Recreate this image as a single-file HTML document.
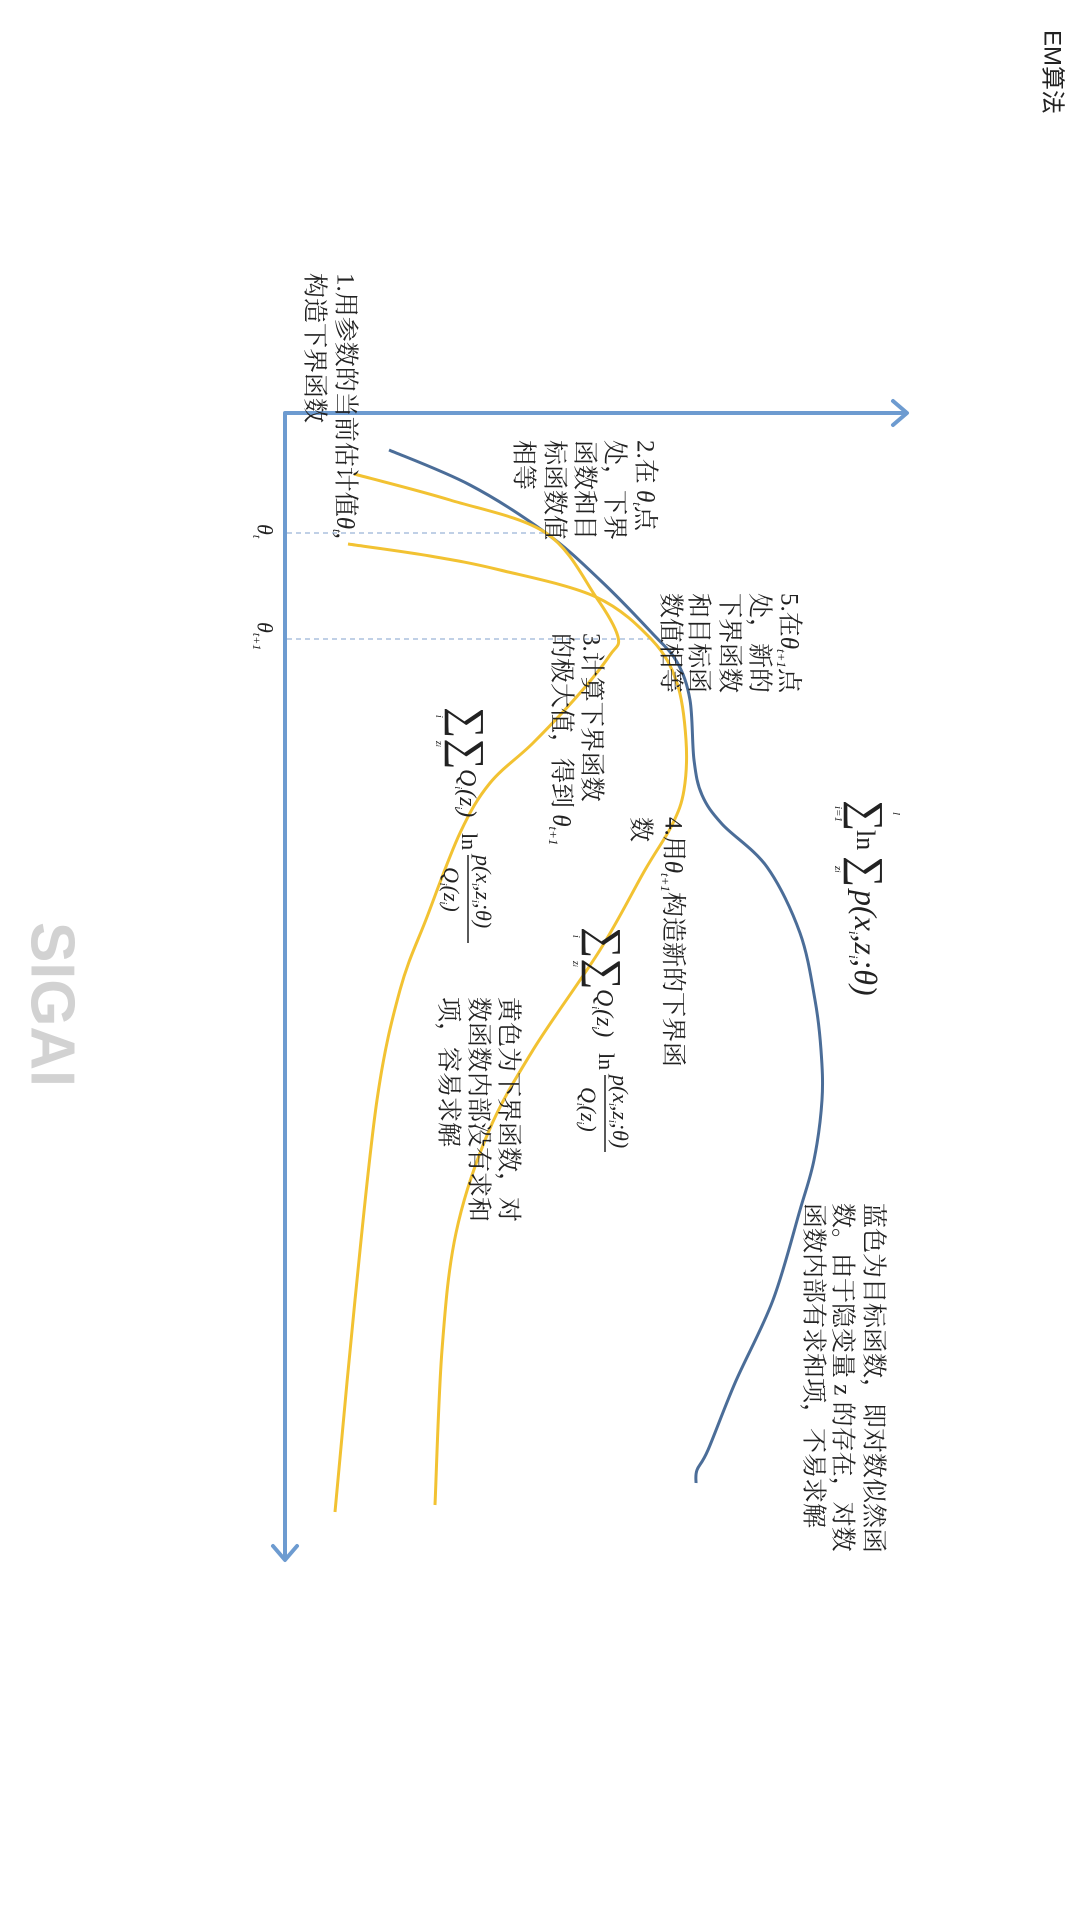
<!DOCTYPE html>
<html><head><meta charset="utf-8"><style>
html,body{margin:0;padding:0;background:#fff;}
svg{display:block;}
.cn{font-family:"Liberation Serif","Noto Serif CJK SC","Noto Sans CJK SC",serif;font-size:25px;fill:#222;}
.m{font-family:"Liberation Serif",serif;font-style:italic;fill:#222;}
.r{font-family:"Liberation Serif",serif;fill:#222;}
</style></head><body>
<svg id="s" width="1080" height="1932" viewBox="0 0 1080 1932" xmlns="http://www.w3.org/2000/svg">
<rect width="1080" height="1932" fill="#fff"/>
<!-- watermark -->
<text transform="translate(52,922) rotate(90)" dominant-baseline="central" font-family="Liberation Sans, sans-serif" font-weight="bold" font-size="62" fill="#d2d2d2" textLength="165" lengthAdjust="spacingAndGlyphs">SIGAI</text>
<!-- title -->
<text transform="translate(1052,30) rotate(90)" dominant-baseline="central" font-family="Liberation Sans, 'Noto Sans CJK SC', sans-serif" font-size="24" fill="#222">EM算法</text>
<!-- axes -->
<g stroke="#6d9bd0" stroke-width="4" fill="none" stroke-linecap="round" stroke-linejoin="round">
<path d="M285,1558 L285,413 L906,413"/>
<path d="M893,401 L907,413 L893,425"/>
<path d="M273,1546 L285,1560 L297,1546"/>
</g>
<g stroke="#9ab5d6" stroke-width="1.3" stroke-dasharray="5,4">
<line x1="287" y1="533" x2="547" y2="533"/>
<line x1="287" y1="639" x2="652" y2="639"/>
</g>
<text transform="translate(265,524) rotate(90)" dominant-baseline="central" class="m" font-size="22">θ<tspan font-size="12" dy="8">t</tspan></text>
<text transform="translate(265,622) rotate(90)" dominant-baseline="central" class="m" font-size="22">θ<tspan font-size="12" dy="8">t+1</tspan></text>
<path id="blue" fill="none" stroke="#4b6d98" stroke-width="3"/>
<path id="ya" fill="none" stroke="#f2c232" stroke-width="3"/>
<path id="yb" fill="none" stroke="#f2c232" stroke-width="3"/>
<!-- text blocks -->
<g class="cn">
<text transform="translate(345,273) rotate(90)" dominant-baseline="central">1.用参数的当前估计值<tspan class="m">θ</tspan><tspan class="m" font-size="13" dy="7">t</tspan><tspan dy="-7">,</tspan></text>
<text transform="translate(314,273) rotate(90)" dominant-baseline="central">构造下界函数</text>

<text transform="translate(645,440) rotate(90)" dominant-baseline="central">2.在 <tspan class="m">θ</tspan><tspan class="m" font-size="13" dy="7">t</tspan><tspan dy="-7">点</tspan></text>
<text transform="translate(614,440) rotate(90)" dominant-baseline="central">处，下界</text>
<text transform="translate(584,440) rotate(90)" dominant-baseline="central">函数和目</text>
<text transform="translate(554,440) rotate(90)" dominant-baseline="central">标函数值</text>
<text transform="translate(523,440) rotate(90)" dominant-baseline="central">相等</text>

<text transform="translate(789,593) rotate(90)" dominant-baseline="central">5.在<tspan class="m">θ</tspan><tspan class="m" font-size="13" dy="7">t+1</tspan><tspan dy="-7">点</tspan></text>
<text transform="translate(759,593) rotate(90)" dominant-baseline="central">处，新的</text>
<text transform="translate(729,593) rotate(90)" dominant-baseline="central">下界函数</text>
<text transform="translate(698,593) rotate(90)" dominant-baseline="central">和目标函</text>
<text transform="translate(670,593) rotate(90)" dominant-baseline="central">数值相等</text>

<text transform="translate(591,633) rotate(90)" dominant-baseline="central">3.计算下界函数</text>
<text transform="translate(561,633) rotate(90)" dominant-baseline="central">的极大值，得到 <tspan class="m">θ</tspan><tspan class="m" font-size="13" dy="7">t+1</tspan></text>

<text transform="translate(673,817) rotate(90)" dominant-baseline="central">4.用<tspan class="m">θ</tspan><tspan class="m" font-size="13" dy="7">t+1</tspan><tspan dy="-7">构造新的下界函</tspan></text>
<text transform="translate(640,817) rotate(90)" dominant-baseline="central">数</text>

<text transform="translate(508,997) rotate(90)" dominant-baseline="central">黄色为下界函数，对</text>
<text transform="translate(478,997) rotate(90)" dominant-baseline="central">数函数内部没有求和</text>
<text transform="translate(448,997) rotate(90)" dominant-baseline="central">项，容易求解</text>

<text transform="translate(873,1203) rotate(90)" dominant-baseline="central">蓝色为目标函数，即对数似然函</text>
<text transform="translate(842,1203) rotate(90)" dominant-baseline="central">数。由于隐变量 z 的存在，对数</text>
<text transform="translate(813,1203) rotate(90)" dominant-baseline="central">函数内部有求和项，不易求解</text>
</g>
<!-- formula top right -->
<g transform="translate(867,800) rotate(90)">
<text x="0" y="14" class="r" font-size="44">∑</text>
<text x="12" y="-26" class="m" font-size="11">l</text>
<text x="6" y="32" class="m" font-size="11">i=1</text>
<text x="30" y="10" class="r" font-size="26">ln</text>
<text x="56" y="14" class="r" font-size="44">∑</text>
<text x="66" y="32" class="m" font-size="11">z<tspan font-size="8">i</tspan></text>
<text x="90" y="12" class="m" font-size="32">p<tspan class="r">(</tspan>x<tspan font-size="13" dy="6">i</tspan><tspan dy="-6" class="r">,</tspan>z<tspan font-size="13" dy="6">i</tspan><tspan dy="-6" class="r">;</tspan>θ<tspan class="r">)</tspan></text>
</g>
<!-- formula middle -->
<g transform="translate(605,927) rotate(90)">
<text x="0" y="14" class="r" font-size="44">∑∑</text>
<text x="8" y="32" class="m" font-size="10">i</text>
<text x="34" y="32" class="m" font-size="10">z<tspan font-size="7">i</tspan></text>
<text x="62" y="8" class="m" font-size="24">Q<tspan font-size="10" dy="5">i</tspan><tspan dy="-5" class="r">(</tspan>z<tspan font-size="10" dy="5">i</tspan><tspan dy="-5" class="r">)</tspan></text>
<text x="126" y="6" class="r" font-size="22">ln</text>
<text x="148" y="-8" class="m" font-size="22">p<tspan class="r">(</tspan>x<tspan font-size="10" dy="4">i</tspan><tspan dy="-4" class="r">,</tspan>z<tspan font-size="10" dy="4">i</tspan><tspan dy="-4" class="r">;</tspan>θ<tspan class="r">)</tspan></text>
<line x1="148" y1="0" x2="225" y2="0" stroke="#222" stroke-width="1.5"/>
<text x="160" y="24" class="m" font-size="22">Q<tspan font-size="10" dy="4">i</tspan><tspan dy="-4" class="r">(</tspan>z<tspan font-size="10" dy="4">i</tspan><tspan dy="-4" class="r">)</tspan></text>
</g>
<!-- formula left -->
<g transform="translate(468,707) rotate(90)">
<text x="0" y="14" class="r" font-size="44">∑∑</text>
<text x="8" y="32" class="m" font-size="10">i</text>
<text x="34" y="32" class="m" font-size="10">z<tspan font-size="7">i</tspan></text>
<text x="62" y="8" class="m" font-size="24">Q<tspan font-size="10" dy="5">i</tspan><tspan dy="-5" class="r">(</tspan>z<tspan font-size="10" dy="5">i</tspan><tspan dy="-5" class="r">)</tspan></text>
<text x="126" y="6" class="r" font-size="22">ln</text>
<text x="148" y="-8" class="m" font-size="22">p<tspan class="r">(</tspan>x<tspan font-size="10" dy="4">i</tspan><tspan dy="-4" class="r">,</tspan>z<tspan font-size="10" dy="4">i</tspan><tspan dy="-4" class="r">;</tspan>θ<tspan class="r">)</tspan></text>
<line x1="148" y1="0" x2="236" y2="0" stroke="#222" stroke-width="1.5"/>
<text x="160" y="24" class="m" font-size="22">Q<tspan font-size="10" dy="4">i</tspan><tspan dy="-4" class="r">(</tspan>z<tspan font-size="10" dy="4">i</tspan><tspan dy="-4" class="r">)</tspan></text>
</g>
</svg>
<script>
function cr(p){var d="M"+p[0][0]+","+p[0][1];for(var i=0;i<p.length-1;i++){var p0=p[i-1]||p[i],p1=p[i],p2=p[i+1],p3=p[i+2]||p2;
var c1=[p1[0]+(p2[0]-p0[0])/6,p1[1]+(p2[1]-p0[1])/6],c2=[p2[0]-(p3[0]-p1[0])/6,p2[1]-(p3[1]-p1[1])/6];
d+=" C"+c1[0].toFixed(1)+","+c1[1].toFixed(1)+" "+c2[0].toFixed(1)+","+c2[1].toFixed(1)+" "+p2[0]+","+p2[1];}return d;}
document.getElementById("blue").setAttribute("d",cr([[389,450],[470,485],[546,533],[600,580],[652,633],[677,662],[690,700],[694,760],[702,795],[722,824],[767,867],[800,933],[815,1000],[821,1050],[822,1100],[814,1160],[800,1210],[773,1300],[735,1383],[708,1450],[697,1470],[696,1483]]));
document.getElementById("ya").setAttribute("d",cr([[354,474],[450,500],[546,533],[596,597],[618,637],[610,655],[580,693],[533,743],[490,783],[460,833],[427,917],[400,990],[377,1100],[355,1300],[335,1512]]));
document.getElementById("yb").setAttribute("d",cr([[348,544],[430,556],[500,570],[596,597],[652,640],[677,683],[686,740],[684,790],[672,825],[645,870],[600,950],[533,1050],[488,1133],[456,1233],[442,1350],[435,1505]]));
</script>
</body></html>
